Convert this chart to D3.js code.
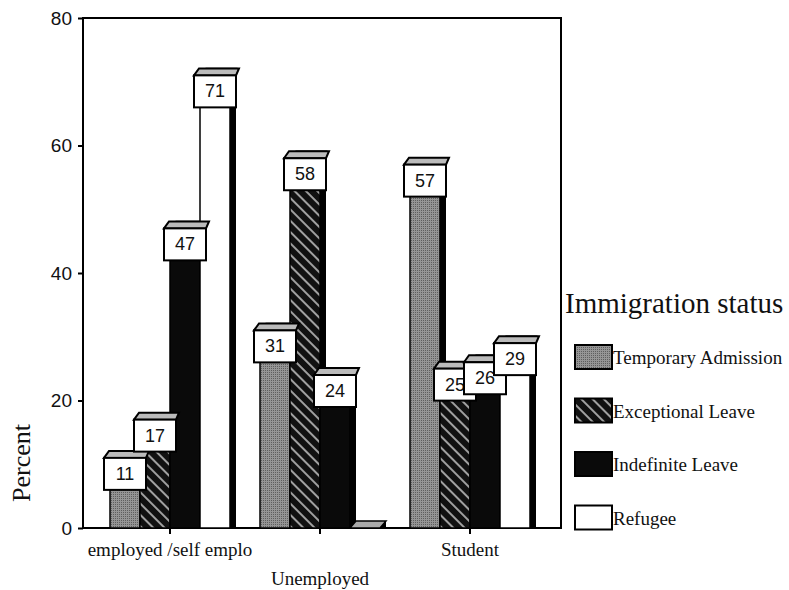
<!DOCTYPE html>
<html>
<head>
<meta charset="utf-8">
<script src="https://cdn.jsdelivr.net/npm/d3@7"></script>
<style>
  body { margin: 0; background: #fff; }
  svg { display: block; }
</style>
</head>
<body>
<svg id="chart" width="789" height="590"></svg>
<script>
// chart values
var categories = ["employed /self emplo", "Unemployed", "Student"];
var seriesNames = ["Temporary Admission", "Exceptional Leave", "Indefinite Leave", "Refugee"];
var temporary = [11, 31, 57];
var exceptional = [17, 58, 25];
var indefinite = [47, 24, 26];
var refugee = [71, 0, 29];
var yTicks = [0, 20, 40, 60, 80];

var seriesValues = [temporary, exceptional, indefinite, refugee];

var serif = "'Liberation Serif', 'Times New Roman', serif";
var sans = "'Liberation Sans', Arial, sans-serif";

var svg = d3.select("#chart");
var frame = {left: 83, top: 18, right: 561, bottom: 528};

var x0 = d3.scaleBand().domain(categories).range([95, 545]);
var x1 = d3.scaleBand().domain(seriesNames).range([15, 135]);
var y = d3.scaleLinear().domain([0, 80]).range([frame.bottom, frame.top]);

// fills
var defs = svg.append("defs");
var dots = defs.append("pattern")
    .attr("id", "dots")
    .attr("patternUnits", "userSpaceOnUse")
    .attr("width", 2).attr("height", 2);
dots.append("rect").attr("width", 2).attr("height", 2).attr("fill", "#959595");
dots.append("rect").attr("width", 1).attr("height", 1).attr("fill", "#5e5e5e");

var hatch = defs.append("pattern")
    .attr("id", "hatch")
    .attr("patternUnits", "userSpaceOnUse")
    .attr("width", 8).attr("height", 8)
    .attr("patternTransform", "rotate(-45)");
hatch.append("rect").attr("width", 8).attr("height", 8).attr("fill", "#111");
hatch.append("line").attr("x1", 4).attr("y1", 0).attr("x2", 4).attr("y2", 8)
    .attr("stroke", "#d0d0d0").attr("stroke-width", 1.5);

var fills = ["url(#dots)", "url(#hatch)", "#0a0a0a", "#fff"];
var dx = 6, dy = 7;

// frame
svg.append("rect")
    .attr("x", frame.left).attr("y", frame.top)
    .attr("width", frame.right - frame.left)
    .attr("height", frame.bottom - frame.top)
    .attr("fill", "none").attr("stroke", "#000").attr("stroke-width", 2);

// y axis
var yAxis = svg.append("g")
    .attr("transform", "translate(" + frame.left + ",0)")
    .call(d3.axisLeft(y).tickValues(yTicks).tickSize(5).tickPadding(6));
yAxis.select(".domain").remove();
yAxis.selectAll("line").attr("stroke", "#000").attr("stroke-width", 2);
yAxis.selectAll("text")
    .attr("fill", "#111")
    .style("font-family", sans)
    .style("font-size", "19px");

// x axis, labels staggered
var xAxis = svg.append("g")
    .attr("transform", "translate(0," + frame.bottom + ")")
    .call(d3.axisBottom(x0).tickSize(6).tickPadding(8));
xAxis.select(".domain").remove();
xAxis.selectAll("line").attr("stroke", "#000").attr("stroke-width", 2);
xAxis.selectAll("text")
    .attr("fill", "#111")
    .attr("dy", function(d, i) { return i % 2 ? "2.25em" : "0.75em"; })
    .style("font-family", serif)
    .style("font-size", "19px");

svg.append("text")
    .attr("transform", "translate(30,463) rotate(-90)")
    .attr("text-anchor", "middle")
    .attr("fill", "#111")
    .style("font-family", serif)
    .style("font-size", "26px")
    .text("Percent");

// bars
var groups = svg.selectAll(".grp")
    .data(categories)
    .enter().append("g")
    .attr("class", "grp")
    .attr("transform", function(c) { return "translate(" + x0(c) + ",0)"; });

groups.each(function(c, ci) {
    var g = d3.select(this);
    var w = x1.bandwidth();
    seriesNames.forEach(function(s, si) {
        var v = seriesValues[si][ci];
        var bx = x1(s), yv = y(v);
        // side face
        g.append("rect")
            .attr("x", bx + w).attr("y", yv - dy)
            .attr("width", dx).attr("height", y(0) - yv + dy)
            .attr("fill", "#000");
        // top face
        g.append("path")
            .attr("d", "M" + bx + "," + yv + "L" + (bx + dx) + "," + (yv - dy) +
                "L" + (bx + w + dx) + "," + (yv - dy) + "L" + (bx + w) + "," + yv + "Z")
            .attr("fill", "#aaa").attr("stroke", "#000").attr("stroke-width", 1.5);
        // front
        g.append("rect")
            .attr("x", bx).attr("y", yv)
            .attr("width", w).attr("height", y(0) - yv)
            .attr("fill", fills[si])
            .attr("stroke", "#000").attr("stroke-width", 1.5);
    });
    // value boxes
    var bw = 42, bh = 32;
    seriesNames.forEach(function(s, si) {
        var v = seriesValues[si][ci];
        if (v === 0) return;
        var cx = x1(s) + x1.bandwidth() / 2, yv = y(v);
        var lx = cx - bw / 2;
        g.append("path")
            .attr("d", "M" + lx + "," + yv + "L" + (lx + 5) + "," + (yv - 7) +
                "L" + (lx + bw + 3) + "," + (yv - 7) + "L" + (lx + bw) + "," + yv + "Z")
            .attr("fill", "#bbb").attr("stroke", "#000").attr("stroke-width", 2);
        g.append("rect")
            .attr("x", lx).attr("y", yv)
            .attr("width", bw).attr("height", bh)
            .attr("fill", "#fff").attr("stroke", "#000").attr("stroke-width", 2);
        g.append("text")
            .attr("x", cx).attr("y", yv + bh / 2 + 6)
            .attr("text-anchor", "middle")
            .attr("fill", "#111")
            .style("font-family", sans)
            .style("font-size", "18px")
            .text(v);
    });
});

// legend
var legend = svg.append("g");
legend.append("text")
    .attr("x", 565).attr("y", 313)
    .attr("fill", "#111")
    .style("font-family", serif)
    .style("font-size", "29px")
    .text("Immigration status");

var items = legend.selectAll(".item")
    .data(seriesNames)
    .enter().append("g")
    .attr("class", "item")
    .attr("transform", function(d, i) { return "translate(575," + (345 + i * 53.5) + ")"; });

items.append("rect")
    .attr("width", 37).attr("height", 24)
    .attr("fill", function(d, i) { return fills[i]; })
    .attr("stroke", "#000").attr("stroke-width", 2);

items.append("text")
    .attr("x", 38).attr("y", 19)
    .attr("fill", "#111")
    .style("font-family", serif)
    .style("font-size", "19px")
    .text(function(d) { return d; });
</script>
</body>
</html>
